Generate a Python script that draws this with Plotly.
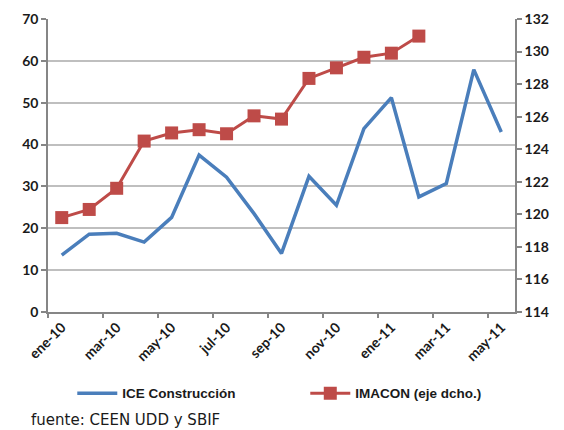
import plotly.graph_objects as go

months = ["ene-10", "feb-10", "mar-10", "abr-10", "may-10", "jun-10", "jul-10", "ago-10",
          "sep-10", "oct-10", "nov-10", "dic-10", "ene-11", "feb-11", "mar-11", "abr-11", "may-11"]
ice = [13.6, 18.6, 18.8, 16.7, 22.6, 37.5, 32.2, 23.5, 14.0, 32.4, 25.5, 43.8, 51.2, 27.5, 30.7, 57.9, 43.0]
imacon = [119.8, 120.3, 121.6, 124.5, 125.0, 125.2, 124.95, 126.05, 125.85, 128.35, 129.0, 129.65, 129.9, 130.95]
tick_labels = months[::2]

x_idx = list(range(len(months)))
GRID = "#BFBFBF"
AXIS = "#868686"
TICKFONT = dict(family="Lato", size=14, color="#1a1a1a", weight="bold")

fig = go.Figure()
fig.add_trace(go.Scatter(x=x_idx, y=ice, name="ICE Construcción", mode="lines",
                         line=dict(color="#4A7EBB", width=3.5), xaxis="x", yaxis="y"))
fig.add_trace(go.Scatter(x=x_idx[:len(imacon)], y=imacon, name="IMACON (eje dcho.)", mode="lines+markers",
                         line=dict(color="#BE4B48", width=3),
                         marker=dict(symbol="square", size=13, color="#BE4B48"),
                         xaxis="x", yaxis="y2"))

xr = [-0.5, len(months) - 0.5]
fig.update_layout(
    width=556, height=422,
    margin=dict(l=40, r=49, t=11, b=118, autoexpand=False),
    paper_bgcolor="white", plot_bgcolor="white",
    showlegend=True,
    legend=dict(orientation="h", x=0.052, xanchor="left", y=-0.278, yanchor="middle",
                entrywidth=178, entrywidthmode="pixels", itemwidth=40,
                font=dict(family="Liberation Sans", size=13.5, color="#1a1a1a", weight="bold"),
                bgcolor="rgba(0,0,0,0)"),
    xaxis=dict(range=xr, tickmode="array", tickvals=x_idx[::2], ticktext=tick_labels,
               tickangle=-45, ticks="", showgrid=False, showline=True, linecolor=AXIS, linewidth=1.5,
               zeroline=False, tickfont=TICKFONT, fixedrange=True, automargin=False),
    xaxis2=dict(range=xr, overlaying="x", side="bottom", tickmode="array",
                tickvals=[i - 0.5 for i in x_idx[::2]], ticks="outside", ticklen=5, tickwidth=1.5,
                tickcolor=AXIS, showticklabels=False, showgrid=False, showline=False, zeroline=False,
                anchor="y", automargin=False),
    yaxis=dict(range=[0, 70], dtick=10, showgrid=True, gridcolor=GRID, gridwidth=1.5,
               showline=True, linecolor=AXIS, linewidth=1.5, ticks="outside", ticklen=5,
               tickwidth=1.5, tickcolor=AXIS, zeroline=False, tickfont=TICKFONT, automargin=False),
    yaxis2=dict(range=[114, 132], dtick=2, overlaying="y", side="right", showgrid=False,
                showline=True, linecolor=AXIS, linewidth=1.5, ticks="outside", ticklen=5,
                tickwidth=1.5, tickcolor=AXIS, zeroline=False, tickfont=TICKFONT, automargin=False),
    annotations=[dict(text="fuente: CEEN UDD y SBIF", xref="paper", yref="paper",
                      x=-0.04, y=-0.37, xanchor="left", yanchor="middle", showarrow=False,
                      font=dict(family="DejaVu Sans", size=15, color="#1a1a1a"))],
)
# invisible trace so the boundary tick marks axis is drawn
fig.add_trace(go.Scatter(x=[xr[0]], y=[0], xaxis="x2", yaxis="y", mode="markers",
                         marker=dict(opacity=0), showlegend=False, hoverinfo="skip"))

fig.write_html("out.html")
